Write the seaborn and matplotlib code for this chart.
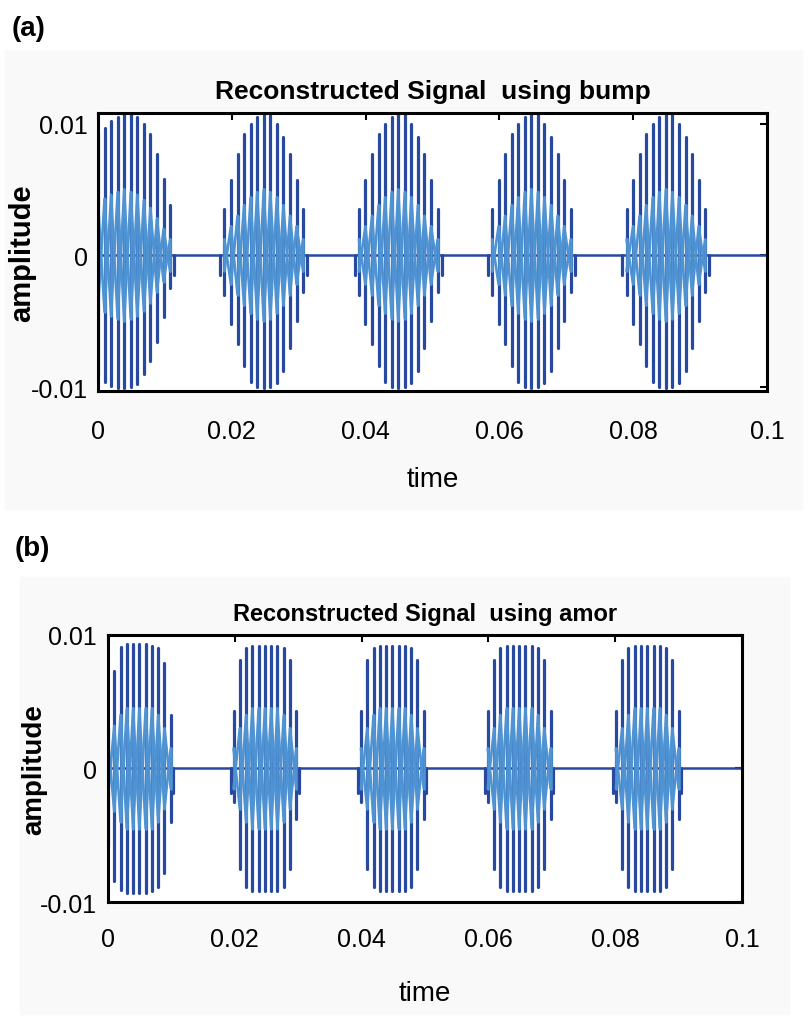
"""Reconstructed signal plots (bump and amor wavelets)."""

import matplotlib

matplotlib.use("Agg")
import matplotlib.pyplot as plt
import pandas as pd
import seaborn as sns
from matplotlib.patches import Rectangle

# axis ticks
TIME_TICKS = [0, 0.02, 0.04, 0.06, 0.08, 0.1]
TIME_TICK_LABELS = ["0", "0.02", "0.04", "0.06", "0.08", "0.1"]
AMP_TICKS = [-0.01, 0, 0.01]
AMP_TICK_LABELS = ["-0.01", "0", "0.01"]
QUIET_LEVEL = 0.0

# panel (a): bump -- time of first stroke in each burst and stroke spacing
BUMP_BURST_START = [0.0, 0.0189, 0.0390, 0.0589, 0.0790]
BUMP_STEP = 0.00098
# first burst is cut at t=0
BUMP_TOP_FIRST = [0.0093, 0.0097, 0.0102, 0.0105, 0.0107, 0.0107, 0.0105, 0.0100, 0.0092, 0.0077, 0.0058, 0.0038]
BUMP_BOT_FIRST = [0.0091, 0.0096, 0.0099, 0.0101, 0.0101, 0.0100, 0.0098, 0.0090, 0.0080, 0.0066, 0.0047, 0.0025]
BUMP_INNER_FIRST = [0.0040, 0.0043, 0.0046, 0.0048, 0.0050, 0.0048, 0.0046, 0.0042, 0.0036, 0.0028, 0.0020, 0.0012]
BUMP_TOP = [0.0035, 0.0057, 0.0077, 0.0092, 0.0100, 0.0105, 0.0107, 0.0107, 0.0100, 0.0090, 0.0077, 0.0057, 0.0035]
BUMP_BOT = [0.0030, 0.0052, 0.0067, 0.0084, 0.0096, 0.0100, 0.0101, 0.0100, 0.0097, 0.0088, 0.0070, 0.0050, 0.0028]
BUMP_INNER = [0.0012, 0.0022, 0.0030, 0.0038, 0.0044, 0.0048, 0.0050, 0.0048, 0.0044, 0.0038, 0.0030, 0.0022, 0.0012]
BUMP_BLIP = -0.0015
BUMP_BLIP_GAP = 0.0006

# panel (b): amor
AMOR_BURST_START = [0.0, 0.0198, 0.0399, 0.0599, 0.0801]
AMOR_STEP = 0.00099
AMOR_TOP_FIRST = [0.0030, 0.0073, 0.0091, 0.0093, 0.0093, 0.0093, 0.0093, 0.0092, 0.0090, 0.0079, 0.0040]
AMOR_BOT_FIRST = [0.0058, 0.0084, 0.0091, 0.0093, 0.0093, 0.0093, 0.0093, 0.0092, 0.0089, 0.0078, 0.0040]
AMOR_INNER_FIRST = [0.0020, 0.0032, 0.0040, 0.0045, 0.0045, 0.0045, 0.0045, 0.0045, 0.0040, 0.0030, 0.0015]
AMOR_TOP = [0.0043, 0.0081, 0.0090, 0.0092, 0.0092, 0.0092, 0.0092, 0.0092, 0.0090, 0.0081, 0.0043]
AMOR_BOT = [0.0025, 0.0075, 0.0089, 0.0092, 0.0092, 0.0092, 0.0092, 0.0092, 0.0089, 0.0075, 0.0038]
AMOR_INNER = [0.0015, 0.0030, 0.0040, 0.0045, 0.0045, 0.0045, 0.0045, 0.0045, 0.0040, 0.0030, 0.0015]
AMOR_BLIP = -0.0018
AMOR_BLIP_GAP = 0.0004

DARK = "#2849a0"
LIGHT = "#4f93d3"


def build_strokes(starts, step, first, rest, blip, blip_gap):
    """Turn burst envelopes into dark and light stroke tables."""
    dark, light = [], []
    for b, t0 in enumerate(starts):
        tops, bots, inner = first if b == 0 else rest
        times = [t0 + i * step for i in range(len(tops))]
        for i, t in enumerate(times):
            key = f"{b}-{i}"
            dark += [(key, t, -bots[i]), (key, t, tops[i])]
            light += [(key, t, -inner[i]), (key, t, inner[i])]
        # small dips where a burst starts and stops
        blips = [times[-1] + blip_gap]
        if b > 0:
            blips.append(times[0] - blip_gap)
        for j, t in enumerate(blips):
            dark += [(f"{b}-blip{j}", t, QUIET_LEVEL), (f"{b}-blip{j}", t, blip)]
        # criss-cross pattern in the middle band
        for phase in (1, -1):
            sign = phase
            for i, t in enumerate(times):
                light.append((f"{b}-zz{phase}", t, sign * inner[i]))
                sign = -sign
    cols = ["stroke", "t", "v"]
    return pd.DataFrame(dark, columns=cols), pd.DataFrame(light, columns=cols)


def draw_panel(ax, dark, light, title, fs_title, fs_tick, fs_ylab, ylim, xpad, ypad, xlpad, ylab_x):
    quiet = pd.DataFrame({"t": [TIME_TICKS[0], TIME_TICKS[-1]], "v": [QUIET_LEVEL, QUIET_LEVEL]})
    sns.lineplot(data=quiet, x="t", y="v", color=DARK, lw=1.8, ax=ax)
    sns.lineplot(data=dark, x="t", y="v", units="stroke", estimator=None, sort=False,
                 color=DARK, lw=2.3, ax=ax)
    sns.lineplot(data=light, x="t", y="v", units="stroke", estimator=None, sort=False,
                 color=LIGHT, lw=1.9, ax=ax)

    ax.set_xlim(TIME_TICKS[0], TIME_TICKS[-1])
    ax.set_ylim(*ylim)
    ax.set_xticks(TIME_TICKS)
    ax.set_xticklabels(TIME_TICK_LABELS)
    ax.set_yticks(AMP_TICKS)
    ax.set_yticklabels(AMP_TICK_LABELS)
    ax.tick_params(direction="in", top=True, right=True, length=5, width=1.5,
                   labelsize=fs_tick, colors="black")
    ax.tick_params(axis="x", pad=xpad)
    ax.tick_params(axis="y", pad=ypad)
    for sp in ax.spines.values():
        sp.set_visible(True)
        sp.set_linewidth(2.2)
        sp.set_color("black")
    ax.set_title(title, fontsize=fs_title, fontweight="bold", pad=11, color="black")
    ax.set_xlabel("time", fontsize=fs_tick + 2, labelpad=xlpad, color="black")
    ax.set_ylabel("amplitude", fontsize=fs_ylab, fontweight="bold", color="black")
    ax.yaxis.set_label_coords(ylab_x, 0.5)
    ax.set_facecolor("white")


def main():
    sns.set_style("white")
    plt.rcParams["font.family"] = ["Liberation Sans Narrow", "Liberation Sans", "DejaVu Sans"]
    plt.rcParams["text.color"] = "black"

    fig = plt.figure(figsize=(8.09, 10.20), dpi=100)
    fig.patch.set_facecolor("white")
    fig.add_artist(Rectangle((0.006, 0.500), 0.985, 0.449, transform=fig.transFigure,
                             color="#f9f9f9", zorder=0))
    fig.add_artist(Rectangle((0.025, 0.005), 0.950, 0.428, transform=fig.transFigure,
                             color="#f9f9f9", zorder=0))

    bump_dark, bump_light = build_strokes(
        BUMP_BURST_START, BUMP_STEP,
        (BUMP_TOP_FIRST, BUMP_BOT_FIRST, BUMP_INNER_FIRST),
        (BUMP_TOP, BUMP_BOT, BUMP_INNER),
        BUMP_BLIP, BUMP_BLIP_GAP)
    amor_dark, amor_light = build_strokes(
        AMOR_BURST_START, AMOR_STEP,
        (AMOR_TOP_FIRST, AMOR_BOT_FIRST, AMOR_INNER_FIRST),
        (AMOR_TOP, AMOR_BOT, AMOR_INNER),
        AMOR_BLIP, AMOR_BLIP_GAP)

    ax_a = fig.add_axes([0.1211, 0.6157, 0.8270, 0.2725])
    draw_panel(ax_a, bump_dark, bump_light, "Reconstructed Signal  using bump",
               19, 18, 21, (-0.0103, 0.0108), 20, 7, 17, -0.093)

    ax_b = fig.add_axes([0.1335, 0.1147, 0.7837, 0.2618])
    draw_panel(ax_b, amor_dark, amor_light, "Reconstructed Signal  using amor",
               17, 18, 20, (-0.01, 0.01), 18, 8, 21, -0.096)

    fig.text(0.014, 0.972, "(a)", fontsize=20, fontweight="bold", va="center", ha="left")
    fig.text(0.018, 0.462, "(b)", fontsize=20, fontweight="bold", va="center", ha="left")

    fig.savefig("out.png", dpi=100)
    plt.close(fig)


if __name__ == "__main__":
    main()
